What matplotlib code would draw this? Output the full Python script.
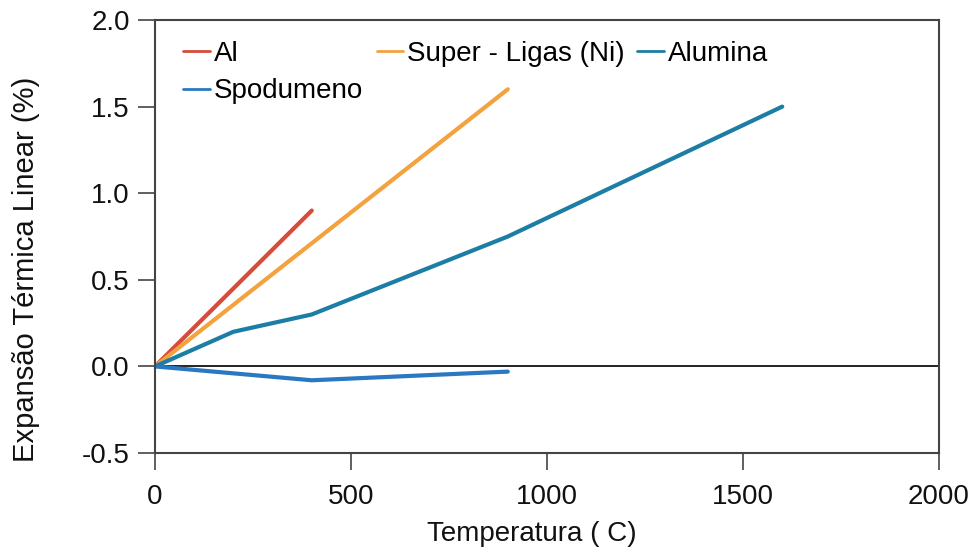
import matplotlib
matplotlib.use("Agg")
import matplotlib.pyplot as plt
from matplotlib.legend import Legend

# Dados de expansão térmica linear (%) por temperatura (C)
temp_al = [0, 400]
exp_al = [0.0, 0.9]

temp_ligas = [0, 900]
exp_ligas = [0.0, 1.6]

temp_alumina = [0, 200, 400, 900, 1600]
exp_alumina = [0.0, 0.2, 0.3, 0.75, 1.5]

temp_spod = [0, 400, 900]
exp_spod = [0.0, -0.08, -0.03]

x_ticks = [0, 500, 1000, 1500, 2000]
y_ticks = [-0.5, 0.0, 0.5, 1.0, 1.5, 2.0]

plt.rcParams["font.family"] = ["Liberation Sans", "DejaVu Sans"]
TAM = 20

fig = plt.figure(figsize=(9.74, 5.53), dpi=100)
ax = fig.add_axes([0.1591, 0.1808, 0.805, 0.7830])

lw = 3.0
l_al, = ax.plot(temp_al, exp_al, color="#d64b39", lw=lw, label="Al", solid_capstyle="round")
l_lig, = ax.plot(temp_ligas, exp_ligas, color="#f3a23e", lw=lw, label="Super - Ligas (Ni)", solid_capstyle="round")
l_alu, = ax.plot(temp_alumina, exp_alumina, color="#1c7da5", lw=lw, label="Alumina", solid_capstyle="round")
l_spo, = ax.plot(temp_spod, exp_spod, color="#2a78c2", lw=lw, label="Spodumeno", solid_capstyle="round")

ax.axhline(0, color="#222222", lw=1.4, zorder=1)

ax.set_xlim(0, 2000)
ax.set_ylim(-0.5, 2.0)
ax.set_xticks(x_ticks)
ax.set_yticks(y_ticks)
ax.set_yticklabels([f"{v:.1f}" for v in y_ticks])

for s in ax.spines.values():
    s.set_color("#444444")
    s.set_linewidth(1.5)
ax.tick_params(direction="out", length=12, width=1.2, color="#444444",
               labelsize=TAM, labelcolor="#111111", pad=6)
ax.tick_params(axis="x", pad=10)

ax.set_xlabel("Temperatura ( C)", fontsize=TAM, color="#111111")
ax.set_ylabel("Expansão Térmica Linear (%)", fontsize=21, color="#111111")
ax.xaxis.set_label_coords(0.48, -0.156)
ax.yaxis.set_label_coords(-0.147, 0.423)

# legenda: uma entrada por bloco, em duas linhas
entradas = [(l_al, 0.036, 0.922), (l_lig, 0.283, 0.922),
            (l_alu, 0.615, 0.922), (l_spo, 0.036, 0.835)]
for linha, x, y in entradas:
    leg = Legend(ax, [linha], [linha.get_label()], loc="center left",
                 bbox_to_anchor=(x, y), frameon=False, fontsize=TAM,
                 borderpad=0, borderaxespad=0, handlelength=0.95, handletextpad=0.15)
    leg.legend_handles[0].set_linewidth(2.0)
    ax.add_artist(leg)

fig.savefig("out.png", dpi=100)
